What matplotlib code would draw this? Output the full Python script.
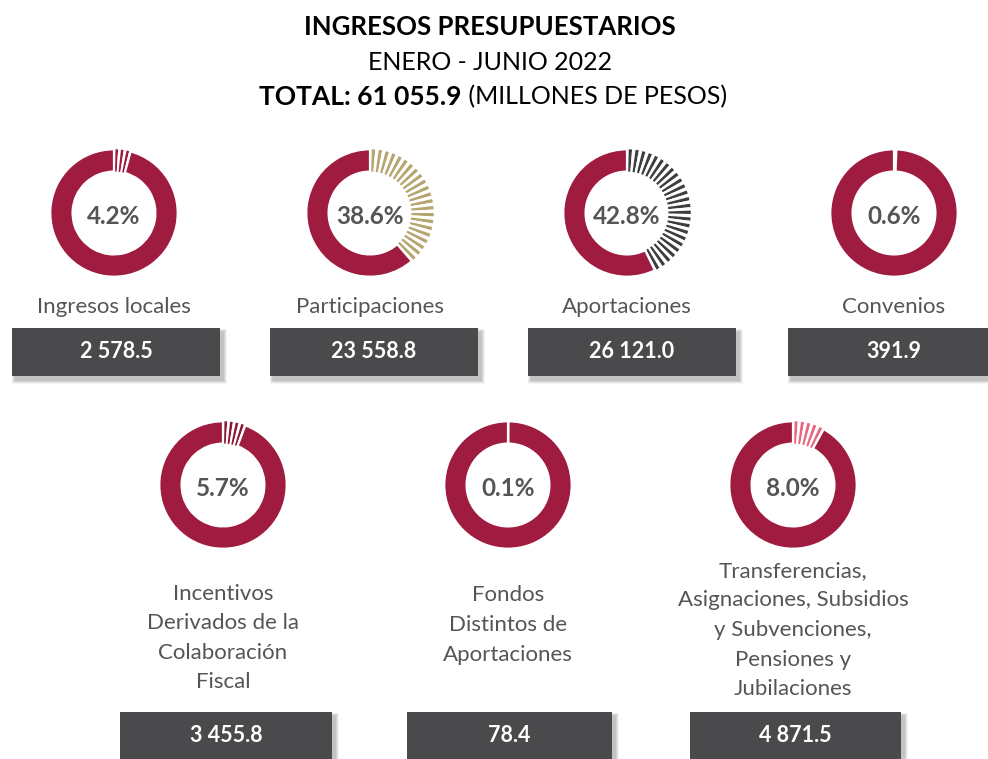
import matplotlib
matplotlib.use("Agg")
import matplotlib.pyplot as plt
from matplotlib.patches import Rectangle

plt.rcParams['font.family'] = ['Lato', 'DejaVu Sans']

# ---------------- data ----------------
title_line1 = "INGRESOS PRESUPUESTARIOS"
title_line2 = "ENERO - JUNIO 2022"
total_label = "TOTAL: 61 055.9"
total_units = "(MILLONES DE PESOS)"

categories = ["Ingresos locales", "Participaciones", "Aportaciones", "Convenios",
              "Incentivos\nDerivados de la\nColaboración\nFiscal",
              "Fondos\nDistintos de\nAportaciones",
              "Transferencias,\nAsignaciones, Subsidios\ny Subvenciones,\nPensiones y\nJubilaciones"]
shares = [4.2, 38.6, 42.8, 0.6, 5.7, 0.1, 8.0]
amounts = ["2 578.5", "23 558.8", "26 121.0", "391.9", "3 455.8", "78.4", "4 871.5"]

# ---------------- style ----------------
RED = "#9F1B3F"
stripe_colors = [RED, "#B5A56F", "#3E3E3E", RED, "#8E1838", RED, "#E8667F"]
stripe_counts = [3, 22, 25, 0, 4, 0, 5]
centers = [(114, 213), (370, 213), (627, 213), (894, 213),
           (223, 485), (508, 485), (793, 485)]
label_y = [307, 307, 307, 307, 638, 625, 630]
boxes = [(12, 328, 208, 48), (270, 328, 208, 48), (528, 328, 208, 48), (788, 328, 215, 48),
         (120, 712, 212, 52), (407, 712, 205, 52), (690, 712, 211, 52)]
R = 65
W, H = 988, 759

fig = plt.figure(figsize=(W / 100, H / 100), dpi=100)
fig.patch.set_facecolor("white")
ax0 = fig.add_axes([0, 0, 1, 1])
ax0.set_xlim(0, W)
ax0.set_ylim(H, 0)
ax0.axis("off")

# title
ax0.text(490, 27, title_line1, ha="center", va="center", fontsize=18.5,
         fontweight="bold", color="black")
ax0.text(490, 62, title_line2, ha="center", va="center", fontsize=18, color="black")
t1 = ax0.text(0, 97, total_label, ha="left", va="center", fontsize=19,
              fontweight="bold", color="black")
t2 = ax0.text(0, 97, " " + total_units, ha="left", va="center", fontsize=18, color="black")
r = fig.canvas.get_renderer()
w1 = t1.get_window_extent(r).width
w2 = t2.get_window_extent(r).width
x_start = 493 - (w1 + w2) / 2
t1.set_x(x_start)
t2.set_x(x_start + w1)

for i, (cat, pct, amt) in enumerate(zip(categories, shares, amounts)):
    cx, cy = centers[i]
    axd = fig.add_axes([(cx - R) / W, 1 - (cy + R) / H, 2 * R / W, 2 * R / H])
    n = stripe_counts[i]
    vals, cols = [], []
    if n == 0:
        vals.append(pct)
        cols.append("white")
    else:
        p = pct / n
        s = p * 0.5
        g = p - s
        vals.append(g / 2); cols.append("white")
        for k in range(n):
            vals.append(s); cols.append(stripe_colors[i])
            vals.append(g if k < n - 1 else g / 2); cols.append("white")
    vals.append(100 - pct)
    cols.append(RED)
    wedges, _ = axd.pie(vals, colors=cols, startangle=90, counterclock=False,
                        radius=1.0, wedgeprops=dict(width=0.35, linewidth=0))
    wedges[-1].set_edgecolor("white")
    wedges[-1].set_linewidth(1.6)
    axd.set_xlim(-1.02, 1.02)
    axd.set_ylim(-1.02, 1.02)
    axd.set_aspect("equal")
    axd.axis("off")
    axd.text(0, -0.05, f"{pct:.1f}%", ha="center", va="center", fontsize=17.5,
             fontweight="bold", color="#555555")

    # label
    ax0.text(cx, label_y[i], cat, ha="center", va="center", fontsize=16,
             color="#555555", linespacing=1.6)

    # box with soft shadow
    bx, by, bw, bh = boxes[i]
    for k in range(7):
        e = 7 - k
        ax0.add_patch(Rectangle((bx + 3 - e / 2, by + 4 - e / 2), bw + e, bh + e,
                                facecolor="black", alpha=0.035, linewidth=0))
    ax0.add_patch(Rectangle((bx, by), bw, bh, facecolor="#4A494B", linewidth=0))
    ax0.text(bx + bw / 2 if i != 3 else 894, by + 24, amt, ha="center", va="center",
             fontsize=15.5, fontweight="bold", color="white")

fig.savefig("out.png", dpi=100, facecolor="white")
